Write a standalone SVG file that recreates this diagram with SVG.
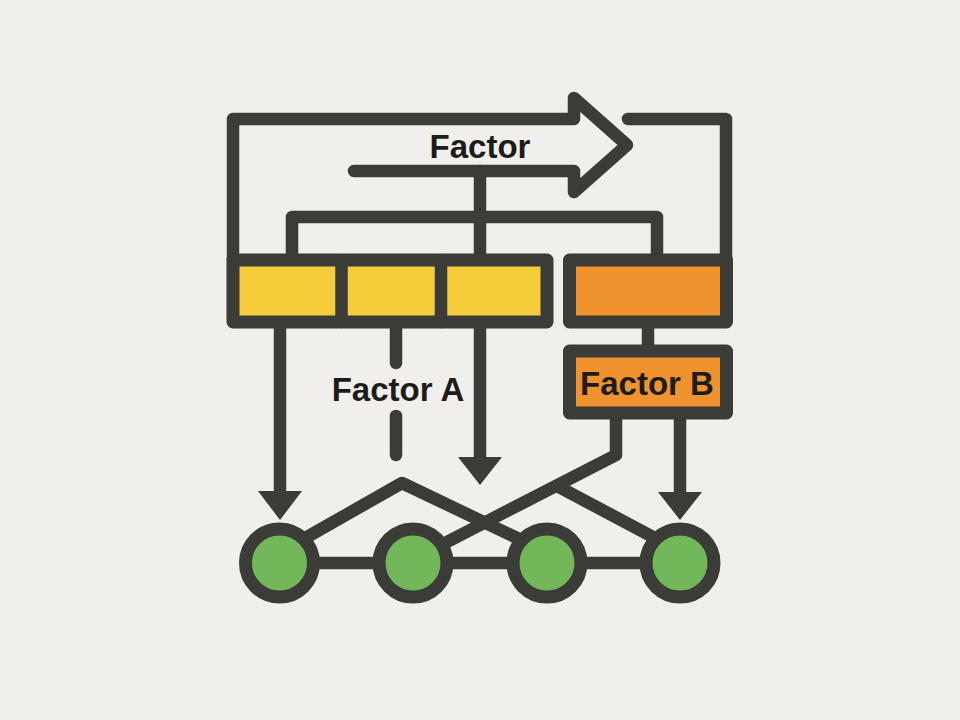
<svg xmlns="http://www.w3.org/2000/svg" width="960" height="720" viewBox="0 0 960 720">
<style>
.ln{fill:none;stroke:#3b3b38;stroke-width:12.5;stroke-linecap:round;stroke-linejoin:round}
.box{stroke:#3b3b38;stroke-width:13;stroke-linejoin:round}
.ah{fill:#3b3b38}
.lbl{font-family:"Liberation Sans",Arial,sans-serif;font-weight:bold;font-size:33px;fill:#1c1c1a;text-anchor:middle}
.node{fill:#72b75a;stroke:#3b3b38;stroke-width:13}
</style>
<rect width="960" height="720" fill="#f1efeb"/>
<g id="connectors">
<path class="ln" d="M233 260 V119 H574 V98 L627 145 L574 192 V171 H354"/>
<path class="ln" d="M628 119 H726 V260"/>
<path class="ln" d="M480 171 V260"/>
<path class="ln" d="M292 260 V217 H657 V260"/>
<path class="ln" d="M648 322 V351"/>
<path class="ln" d="M280 322 V494"/>
<polygon class="ah" points="258,491 302,491 280,520"/>
<path class="ln" d="M396 322 V363"/>
<path class="ln" d="M396 416 V455"/>
<path class="ln" d="M480 322 V460"/>
<polygon class="ah" points="458,457 502,457 480,485"/>
<path class="ln" d="M616 413 V455 L445 543"/>
<path class="ln" d="M557 486 L653 537"/>
<path class="ln" d="M680 413 V494"/>
<polygon class="ah" points="658,492 702,492 680,520"/>
<path class="ln" d="M307 537 L402 483 L517 538"/>
<path class="ln" d="M279 563 H680"/>
</g>
<g id="factor-label">
<text class="lbl" x="480" y="158">Factor</text>
</g>
<g id="yellow-group">
<rect class="box" x="233" y="260" width="314" height="62" fill="#f5cc3a"/>
<path class="ln" d="M341.5 260 V322 M441 260 V322" stroke-linecap="butt"/>
</g>
<g id="orange-box">
<rect class="box" x="569.5" y="260" width="157" height="62" fill="#f0922e"/>
</g>
<g id="factor-a">
<text class="lbl" x="398" y="401">Factor A</text>
</g>
<g id="factor-b">
<rect class="box" x="569.5" y="351" width="157" height="62" fill="#f0922e"/>
<text class="lbl" x="647" y="395">Factor B</text>
</g>
<g id="node1"><circle class="node" cx="279.5" cy="563" r="34"/></g>
<g id="node2"><circle class="node" cx="413" cy="563" r="34"/></g>
<g id="node3"><circle class="node" cx="547" cy="563" r="34"/></g>
<g id="node4"><circle class="node" cx="680" cy="563" r="34"/></g>
</svg>
